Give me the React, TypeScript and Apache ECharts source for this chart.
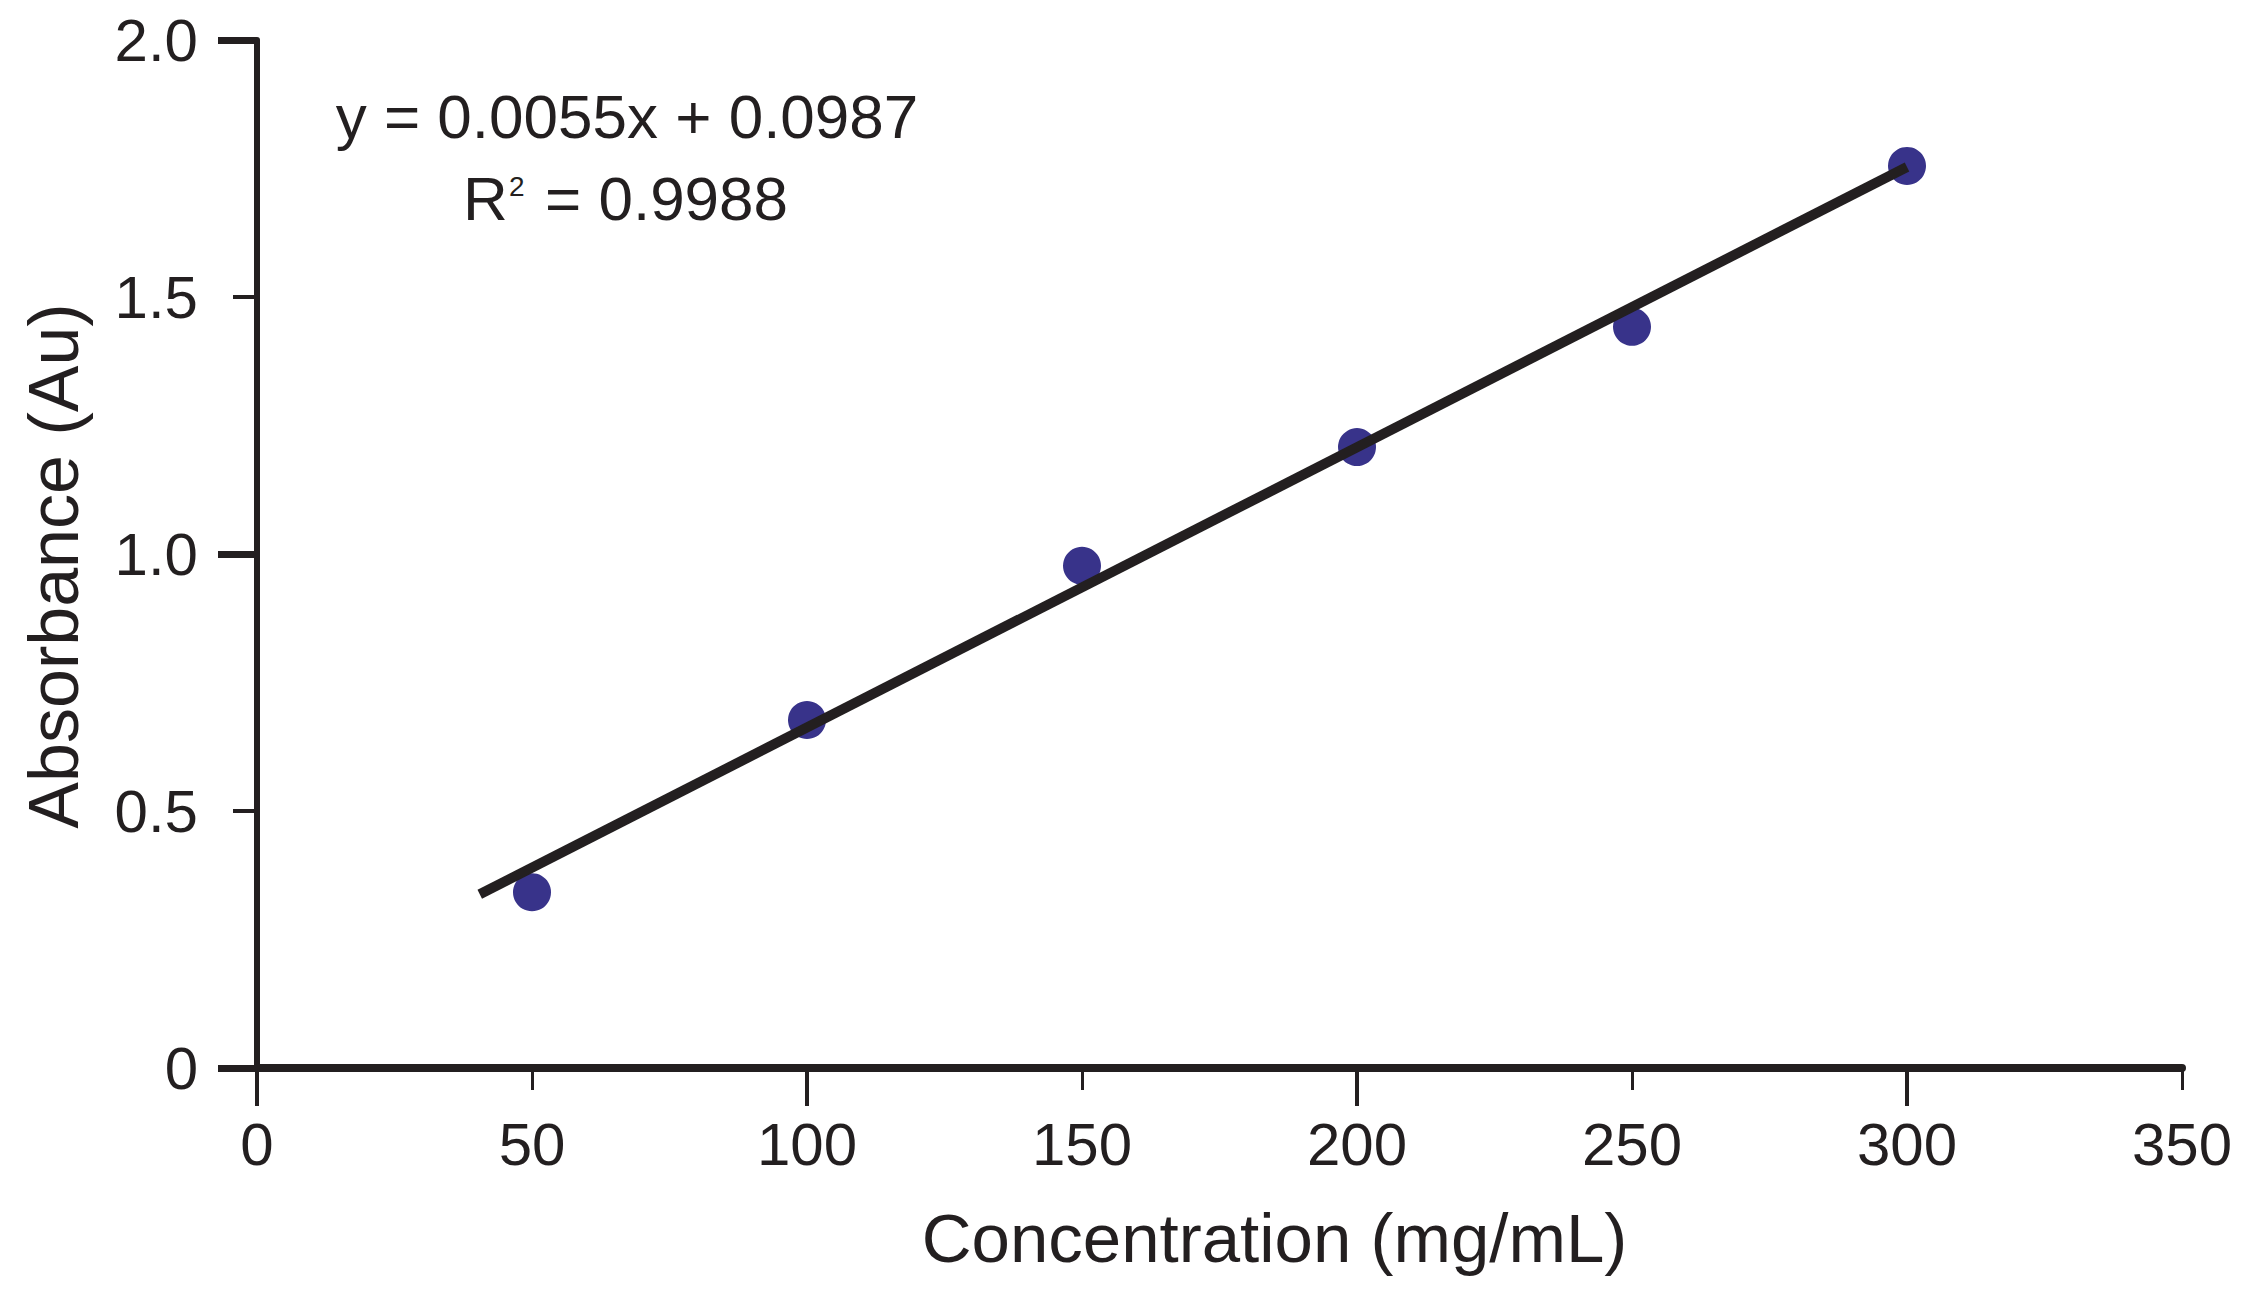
import React, { useEffect, useRef } from "react";
import * as echarts from "echarts";

const concentrations = [50, 100, 150, 200, 250, 300];
const absorbance = [0.342, 0.677, 0.977, 1.208, 1.442, 1.755];
const fitX = [40.5, 300];
const fitY = [0.338, 1.753];
const xTicks = { min: 0, max: 350, step: 50 };
const yTicks = { min: 0, max: 2, step: 0.5 };
const equationText = "y = 0.0055x + 0.0987";
const r2Value = "= 0.9988";

const INK = "#231f20";
const DOT = "#38338a";
const FONT = "Liberation Sans, Arial, sans-serif";

export default function App() {
  const ref = useRef<HTMLDivElement>(null);
  useEffect(() => {
    document.body.style.margin = "0";
    if (!ref.current) return;
    const chart = echarts.init(ref.current, undefined, { renderer: "svg" });
    const left = 257;
    const right = 65;
    const top = 40;
    const bottom = 232;
    const fullW = 2247 - left - right;
    const longW = (fullW * 300) / 350;
    chart.setOption({
      animation: false,
      backgroundColor: "#ffffff",
      grid: [
        { left, right, top, bottom },
        { left, width: longW, top, bottom },
      ],
      xAxis: [
        {
          type: "value",
          gridIndex: 0,
          min: xTicks.min,
          max: xTicks.max,
          interval: xTicks.step,
          name: "Concentration (mg/mL)",
          nameLocation: "middle",
          nameGap: 136,
          nameTextStyle: {
            fontFamily: FONT,
            fontSize: 69,
            color: INK,
            padding: [0, 0, 0, 110],
          },
          axisLine: { show: true, onZero: false, lineStyle: { color: INK, width: 8 } },
          axisTick: { show: true, length: 22, lineStyle: { color: INK, width: 3 } },
          axisLabel: { fontFamily: FONT, fontSize: 60, color: INK, margin: 46 },
          splitLine: { show: false },
        },
        {
          type: "value",
          gridIndex: 1,
          min: 0,
          max: 300,
          interval: 100,
          axisLine: { show: false },
          axisTick: { show: true, length: 38, lineStyle: { color: INK, width: 4 } },
          axisLabel: { show: false },
          splitLine: { show: false },
        },
      ],
      yAxis: [
        {
          type: "value",
          gridIndex: 0,
          min: yTicks.min,
          max: yTicks.max,
          interval: yTicks.step,
          name: "Absorbance (Au)",
          nameLocation: "middle",
          nameRotate: 90,
          nameGap: 168,
          nameTextStyle: {
            fontFamily: FONT,
            fontSize: 70,
            color: INK,
            padding: [0, 24, 0, 0],
          },
          axisLine: { show: true, onZero: false, lineStyle: { color: INK, width: 6 } },
          axisTick: { show: true, length: 24, lineStyle: { color: INK, width: 4 } },
          axisLabel: {
            fontFamily: FONT,
            fontSize: 60,
            color: INK,
            margin: 59,
            padding: [8, 0, 0, 0],
            formatter: (v: number) => (v === 0 ? "0" : v.toFixed(1)),
          },
          splitLine: { show: false },
        },
        {
          type: "value",
          gridIndex: 1,
          min: 0,
          max: 2,
          interval: 1,
          axisLine: { show: false },
          axisTick: { show: true, length: 39, lineStyle: { color: INK, width: 7 } },
          axisLabel: { show: false },
          splitLine: { show: false },
        },
      ],
      series: [
        {
          type: "scatter",
          xAxisIndex: 0,
          yAxisIndex: 0,
          data: concentrations.map((c, i) => [c, absorbance[i]]),
          symbol: "circle",
          symbolSize: 38,
          itemStyle: { color: DOT, opacity: 1 },
          z: 2,
        },
        {
          type: "line",
          xAxisIndex: 0,
          yAxisIndex: 0,
          data: fitX.map((x, i) => [x, fitY[i]]),
          showSymbol: false,
          symbol: "none",
          lineStyle: { color: INK, width: 10, cap: "butt" },
          z: 3,
        },
      ],
      graphic: [
        {
          type: "text",
          x: 627,
          y: 116,
          style: {
            text: equationText,
            fontFamily: FONT,
            fontSize: 62,
            fill: INK,
            textAlign: "center",
            textVerticalAlign: "middle",
          },
        },
        {
          type: "text",
          x: 463,
          y: 198,
          style: {
            text: "R",
            fontFamily: FONT,
            fontSize: 62,
            fill: INK,
            textAlign: "left",
            textVerticalAlign: "middle",
          },
        },
        {
          type: "text",
          x: 509,
          y: 186,
          style: {
            text: "2",
            fontFamily: FONT,
            fontSize: 28,
            fill: INK,
            textAlign: "left",
            textVerticalAlign: "middle",
          },
        },
        {
          type: "text",
          x: 545,
          y: 198,
          style: {
            text: r2Value,
            fontFamily: FONT,
            fontSize: 62,
            fill: INK,
            textAlign: "left",
            textVerticalAlign: "middle",
          },
        },
      ],
    });
    return () => chart.dispose();
  }, []);
  return <div ref={ref} style={{ width: 2247, height: 1300 }} />;
}
